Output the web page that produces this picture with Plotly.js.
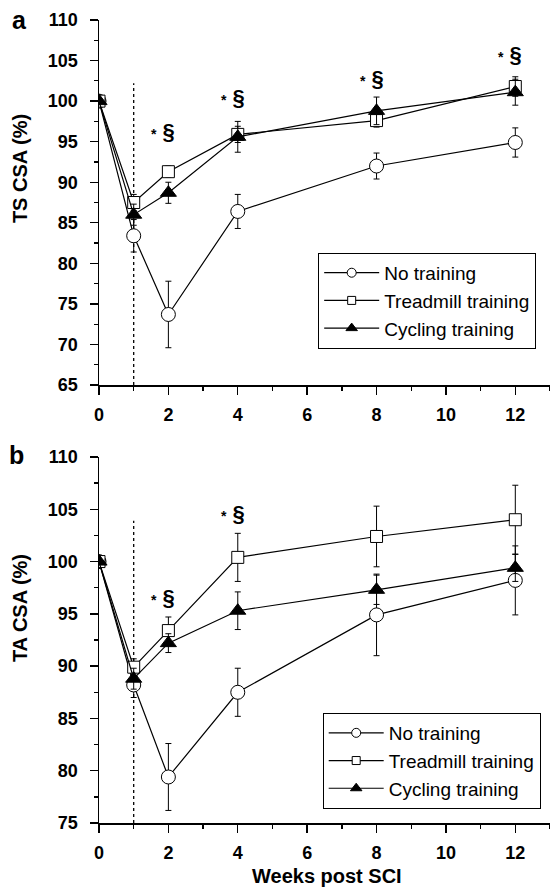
<!DOCTYPE html>
<html>
<head>
<meta charset="utf-8">
<script src="https://cdn.plot.ly/plotly-3.0.1.min.js"></script>
<style>html,body{margin:0;padding:0;background:#fff;}#chart{width:550px;height:890px;}</style>
</head>
<body>
<div id="chart"></div>
<script>
// ---- data ----
const weeks = [0, 1, 2, 4, 8, 12];
const seriesNames = ["No training", "Treadmill training", "Cycling training"];

// Panel a: TS CSA (%)
const tsNo = [100, 83.4, 73.7, 86.4, 92.0, 94.9];
const tsNoErr = [0, 2.0, 4.1, 2.1, 1.6, 1.8];
const tsTread = [100, 87.5, 91.3, 95.9, 97.6, 101.8];
const tsTreadErr = [0, 1.0, 0.7, 1.0, 0.8, 1.2];
const tsCyc = [100, 86.0, 88.7, 95.6, 98.8, 101.1];
const tsCycErr = [0, 1.3, 1.3, 1.9, 1.7, 1.6];

// Panel b: TA CSA (%)
const taNo = [100, 88.2, 79.4, 87.5, 94.9, 98.2];
const taNoErr = [0, 1.2, 3.2, 2.3, 3.9, 3.3];
const taTread = [100, 89.9, 93.4, 100.4, 102.4, 104.0];
const taTreadErr = [0, 0.8, 1.3, 2.3, 2.9, 3.3];
const taCyc = [100, 88.8, 92.2, 95.3, 97.3, 99.4];
const taCycErr = [0, 1.0, 0.9, 1.8, 1.4, 1.3];

// significance marks "* §"
const sigA_x = [2, 4, 8, 12];
const sigA_y = [96.2, 100.4, 102.8, 105.7];
const sigB_x = [2, 4];
const sigB_y = [96.6, 104.6];

// dotted line at training start
const startWeek = 1;
const dotTopA = 102.2;
const dotTopB = 103.9;

const FONT = "Liberation Sans, Arial, Helvetica, sans-serif";
const symbols = ["circle", "square", "triangle-up"];
const plotSizes = [14, 12, 14];
const legendSizes = [9, 8, 10];

function mk(x, y, err, k, xa, ya) {
  const filled = symbols[k] === "triangle-up";
  return {
    x: x, y: y, name: seriesNames[k], type: "scatter", mode: "lines+markers",
    xaxis: xa, yaxis: ya, showlegend: false,
    line: {color: "black", width: 1.2},
    marker: {symbol: symbols[k], size: plotSizes[k], color: filled ? "black" : "white", line: {color: "black", width: 1}},
    error_y: {type: "data", array: err, visible: true, color: "black", thickness: 1, width: 3}
  };
}
function legendEntry(k, xa, ya, leg) {
  const filled = symbols[k] === "triangle-up";
  return {
    x: [null], y: [null], name: seriesNames[k], type: "scatter", mode: "lines+markers",
    xaxis: xa, yaxis: ya, legend: leg, showlegend: true,
    line: {color: "black", width: 1.2},
    marker: {symbol: symbols[k], size: legendSizes[k], color: filled ? "black" : "white", line: {color: "black", width: 1}}
  };
}

const traces = [
  mk(weeks, tsNo, tsNoErr, 0, "x", "y"),
  mk(weeks, tsTread, tsTreadErr, 1, "x", "y"),
  mk(weeks, tsCyc, tsCycErr, 2, "x", "y"),
  mk(weeks, taNo, taNoErr, 0, "x2", "y2"),
  mk(weeks, taTread, taTreadErr, 1, "x2", "y2"),
  mk(weeks, taCyc, taCycErr, 2, "x2", "y2"),
  legendEntry(0, "x", "y", "legend"), legendEntry(1, "x", "y", "legend"), legendEntry(2, "x", "y", "legend"),
  legendEntry(0, "x2", "y2", "legend2"), legendEntry(1, "x2", "y2", "legend2"), legendEntry(2, "x2", "y2", "legend2")
];

const tickFont = {family: FONT, size: 18, color: "black", weight: 700};

function xax(anchor) {
  return {
    anchor: anchor, range: [0, 13], domain: [0, 1],
    tickmode: "linear", tick0: 0, dtick: 2,
    ticks: "outside", ticklen: 8, tickwidth: 1.3, tickcolor: "black",
    minor: {dtick: 1, ticks: "outside", ticklen: 4, tickwidth: 1.3, tickcolor: "black", showgrid: false},
    showline: true, linecolor: "black", linewidth: 1.5,
    showgrid: false, zeroline: false,
    tickfont: tickFont, ticklabelstandoff: 5, fixedrange: true
  };
}
function yax(anchor, range, domain) {
  return {
    anchor: anchor, range: range, domain: domain,
    tickmode: "linear", tick0: 0, dtick: 5,
    ticks: "outside", ticklen: 8, tickwidth: 1.3, tickcolor: "black",
    minor: {dtick: 2.5, ticks: "outside", ticklen: 4, tickwidth: 1.3, tickcolor: "black", showgrid: false},
    showline: true, linecolor: "black", linewidth: 1.5,
    showgrid: false, zeroline: false,
    tickfont: tickFont, ticklabelstandoff: 8, fixedrange: true
  };
}

const annotations = [];
function sig(xs, ys, xref, yref) {
  xs.forEach((v, i) => annotations.push({
    x: v, y: ys[i], xref: xref, yref: yref, xshift: -5, xanchor: "center", yanchor: "middle",
    text: "<span style='font-size:14px'>*</span> §",
    showarrow: false, font: {family: FONT, size: 22, color: "black", weight: 700}
  }));
}
sig(sigA_x, sigA_y, "x", "y");
sig(sigB_x, sigB_y, "x2", "y2");

const labelFont = {family: FONT, size: 20, color: "black", weight: 700};
const panelFont = {family: FONT, size: 25, color: "black", weight: 700};
function paperNote(text, x, y, font, angle) {
  annotations.push({text: text, x: x, y: y, xref: "paper", yref: "paper", xanchor: "center", yanchor: "middle",
    showarrow: false, font: font, textangle: angle || 0});
}
paperNote("a", -0.177, 1.0, panelFont);
paperNote("b", -0.182, 0.458, panelFont);
paperNote("TS CSA (%)", -0.175, 0.8144, labelFont, -90);
paperNote("TA CSA (%)", -0.175, 0.2677, labelFont, -90);
paperNote("Weeks post SCI", 0.5055, -0.066, labelFont);

const legendStyle = (x, y) => ({
  x: x, y: y, xanchor: "left", yanchor: "top",
  bgcolor: "white", bordercolor: "black", borderwidth: 1,
  font: {family: FONT, size: 19, color: "black"},
  itemwidth: 55, tracegroupgap: 0
});

const layout = {
  width: 550, height: 890,
  margin: {l: 99, r: 0, t: 20, b: 67},
  paper_bgcolor: "white", plot_bgcolor: "white",
  font: {family: FONT, color: "black"},
  xaxis: xax("y"),
  yaxis: yax("x", [65, 110], [0.5454, 1]),
  xaxis2: xax("y2"),
  yaxis2: yax("x2", [75, 110], [0, 0.4558]),
  legend: legendStyle(0.486, 0.71),
  legend2: legendStyle(0.496, 0.137),
  shapes: [
    {type: "line", xref: "x", yref: "y", x0: startWeek, x1: startWeek, y0: 65, y1: dotTopA, line: {color: "black", width: 1.3, dash: "dot"}, layer: "below"},
    {type: "line", xref: "x2", yref: "y2", x0: startWeek, x1: startWeek, y0: 75, y1: dotTopB, line: {color: "black", width: 1.3, dash: "dot"}, layer: "below"}
  ],
  annotations: annotations
};

Plotly.newPlot("chart", traces, layout, {staticPlot: true, displayModeBar: false});
</script>
</body>
</html>
